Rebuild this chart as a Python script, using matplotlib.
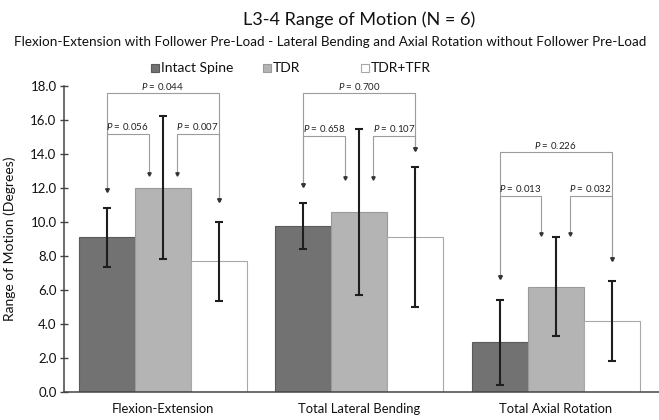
import matplotlib
matplotlib.use("Agg")
import matplotlib.pyplot as plt
from matplotlib.patches import Rectangle
import numpy as np

plt.rcParams['font.family'] = ['Lato', 'DejaVu Sans']
plt.rcParams['mathtext.fontset'] = 'custom'
plt.rcParams['mathtext.it'] = 'Lato:italic'
plt.rcParams['mathtext.rm'] = 'Lato'

categories = ["Flexion-Extension", "Total Lateral Bending", "Total Axial Rotation"]
series = ["Intact Spine", "TDR", "TDR+TFR"]
intact = [9.10, 9.75, 2.92]
tdr = [12.02, 10.60, 6.20]
tdr_tfr = [7.68, 9.14, 4.18]
intact_err = [1.75, 1.35, 2.50]
tdr_err = [4.22, 4.88, 2.93]
tdr_tfr_err = [2.30, 4.12, 2.35]

# significance brackets: (left-vs-mid, mid-vs-right, left-vs-right)
p_left = ["0.056", "0.658", "0.013"]
p_right = ["0.007", "0.107", "0.032"]
p_outer = ["0.044", "0.700", "0.226"]
inner_level = [15.2, 15.06, 11.53]
outer_level = [17.57, 17.57, 14.1]
arrow_left = [11.9, 12.2, 6.78]
arrow_mid = [12.8, 12.6, 9.3]
arrow_right = [11.3, 14.3, 7.82]

colors = ["#727272", "#b4b4b4", "#ffffff"]
edges = ["#5a5a5a", "#9a9a9a", "#a8a8a8"]

fig = plt.figure(figsize=(6.59, 4.20), dpi=100)
ax = fig.add_axes([63.5 / 659, 28 / 420, 1 - 63.5 / 659, 306 / 420])

x = np.arange(len(categories))
w = 0.285
vals = [intact, tdr, tdr_tfr]
errs = [intact_err, tdr_err, tdr_tfr_err]
for i in range(3):
    ax.bar(x + (i - 1) * w, vals[i], w, color=colors[i], edgecolor=edges[i],
           linewidth=0.8, zorder=2)
    ax.errorbar(x + (i - 1) * w, vals[i], yerr=errs[i], fmt='none',
                ecolor='#1e1e1e', elinewidth=1.5, capsize=3.2, capthick=1.5,
                zorder=3)

lc = '#9c9c9c'
lw = 0.8
off = 0.072
pfs = 7.0


def bracket(xa, xb, level, ya, yb, label):
    ax.plot([xa, xa, xb, xb], [ya, level, level, yb], color=lc, lw=lw,
            zorder=1, solid_joinstyle='miter')
    ax.plot([xa, xb], [ya, yb], linestyle='none', marker='v', markersize=2.4,
            color='#333333', zorder=1)
    ax.text((xa + xb) / 2, level + 0.1, r'$P$ = ' + label, ha='center',
            va='bottom', fontsize=pfs, color='#222222')


for g in range(3):
    xl = x[g] - w
    xm = x[g]
    xr = x[g] + w
    bracket(xl, xm - off, inner_level[g], arrow_left[g], arrow_mid[g], p_left[g])
    bracket(xm + off, xr, inner_level[g], arrow_mid[g], arrow_right[g], p_right[g])
    bracket(xl, xr, outer_level[g], arrow_left[g], arrow_right[g], p_outer[g])

ax.set_xlim(-0.5046, 2.526)
ax.set_ylim(0, 18)
ax.set_yticks(np.arange(0, 18.1, 2))
ax.set_yticklabels([f"{v:.1f}" for v in np.arange(0, 18.1, 2)])
ax.set_xticks(x)
ax.set_xticklabels(categories, fontsize=9.4, color='#111111')
ax.tick_params(axis='x', length=0, pad=8)
ax.tick_params(axis='y', direction='inout', length=6, width=1, color='#444444',
               labelsize=9.5, pad=2, labelcolor='#111111')
for s in ['top', 'right']:
    ax.spines[s].set_visible(False)
for s in ['left', 'bottom']:
    ax.spines[s].set_color('#444444')
    ax.spines[s].set_linewidth(1.1)
ax.set_ylabel("Range of Motion (Degrees)", fontsize=10, color='#111111')
ax.yaxis.set_label_coords(-0.079, 0.5)

fig.text(359 / 659, 1 - 20 / 420, "L3-4 Range of Motion (N = 6)", ha='center',
         va='center', fontsize=13, color='#111111')
fig.text(330 / 659, 1 - 42 / 420,
         "Flexion-Extension with Follower Pre-Load - Lateral Bending and Axial Rotation without Follower Pre-Load",
         ha='center', va='center', fontsize=9.75, color='#111111')

# legend entries
leg_x = [151, 263, 361]
for i in range(3):
    fig.add_artist(Rectangle((leg_x[i] / 659, 1 - 72 / 420), 8 / 659, 8 / 420,
                             transform=fig.transFigure, facecolor=colors[i],
                             edgecolor=edges[i], linewidth=0.8))
    fig.text((leg_x[i] + 10) / 659, 1 - 68 / 420, series[i], ha='left',
             va='center', fontsize=10, color='#111111')

fig.savefig("out.png", dpi=100)
